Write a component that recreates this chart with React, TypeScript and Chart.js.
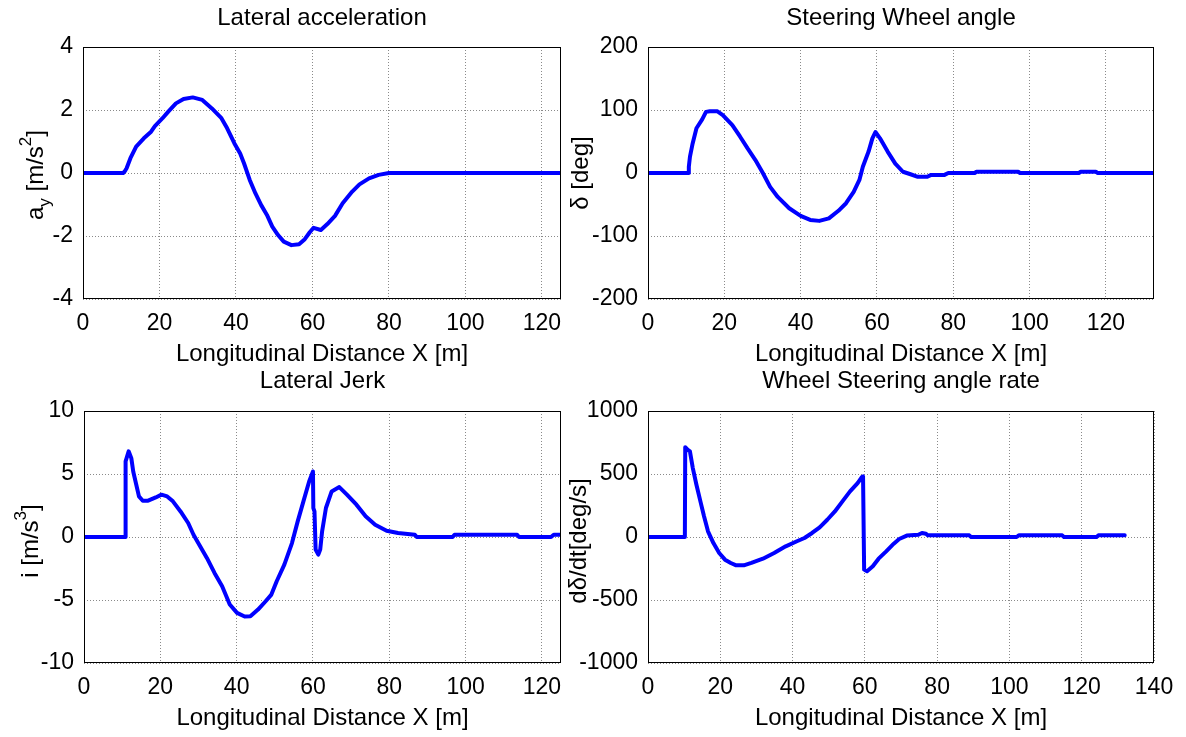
import React, { useEffect, useRef } from "react";
import { Chart, registerables } from "chart.js";

Chart.register(...registerables);

const FONT = "'Liberation Sans', Arial, Helvetica, sans-serif";

// ---------- Lateral acceleration ----------
const ayX = [0, 10.5, 10.9, 11.4, 12.4, 13.9, 15.9, 17.8, 18.8, 20.8, 22.3, 24.3, 26.3, 28.7, 31.2, 33.7, 36.2, 37.7, 39.6, 41.1, 42.1, 43.6, 45.1, 46.6, 48.1, 49.5, 51.0, 52.5, 54.5, 56.5, 58.0, 59.3, 60.3, 62.2, 63.9, 65.9, 67.9, 70.4, 72.3, 74.8, 77.3, 80, 125];
const ayY = [0, 0, 0.05, 0.15, 0.47, 0.84, 1.1, 1.31, 1.49, 1.74, 1.95, 2.21, 2.35, 2.4, 2.32, 2.05, 1.74, 1.42, 0.94, 0.62, 0.31, -0.22, -0.65, -1.02, -1.33, -1.7, -1.97, -2.18, -2.29, -2.26, -2.1, -1.88, -1.74, -1.81, -1.62, -1.36, -0.96, -0.59, -0.36, -0.17, -0.06, 0, 0];

// ---------- Steering wheel angle ----------
const swX = [0, 10.5, 10.7, 11.0, 11.7, 12.7, 14.2, 15.2, 16.2, 18.2, 19.6, 22.1, 24.1, 26.1, 28.1, 30.1, 32.0, 34.0, 37.0, 40.0, 42.5, 44.9, 47.4, 49.9, 51.9, 53.9, 55.4, 56.3, 57.8, 58.8, 59.6, 60.8, 62.8, 64.8, 66.8, 68.8, 70.7, 73.2, 74.2, 77.7, 78.7, 85.6, 86.1, 97.0, 97.5, 112.9, 113.4, 117.4, 117.8, 132.6];
const swY = [0, 0, 10, 26, 47, 71, 85, 97, 98, 98, 92, 76, 58, 39, 21, 0, -22, -38, -56, -68, -74.5, -76, -72, -60, -48, -30, -11, 10, 34, 55, 65, 55, 34, 15, 2, -2, -6, -6, -3, -3, 0, 0, 2, 2, 0, 0, 2, 2, 0, 0];

// ---------- Lateral jerk ----------
const jkX = [0, 10.8, 10.9, 11.7, 12.4, 12.9, 13.7, 14.4, 15.4, 16.8, 18.8, 20.3, 21.8, 23.3, 25.3, 27.3, 28.7, 30.2, 32.2, 34.2, 36.2, 38.2, 40.1, 42.1, 43.6, 45.6, 47.6, 49.1, 50.5, 52.5, 54.5, 56.0, 57.5, 59.0, 59.5, 60.0, 60.1, 60.4, 60.7, 61.4, 61.9, 62.4, 63.4, 64.9, 66.9, 68.9, 71.4, 73.8, 76.3, 79.3, 82.3, 86.7, 87.2, 96.6, 97.1, 113.5, 114.0, 122.4, 123.1, 125];
const jkY = [0, 0, 6.0, 6.8, 6.26, 5.2, 4.15, 3.22, 2.88, 2.88, 3.14, 3.36, 3.22, 2.83, 2.03, 1.11, 0.18, -0.61, -1.66, -2.85, -3.91, -5.36, -6.02, -6.31, -6.29, -5.76, -5.1, -4.57, -3.51, -2.19, -0.48, 1.24, 2.83, 4.41, 4.81, 5.2, 2.3, 2.03, -1.0, -1.4, -1.0, 0.45, 2.3, 3.62, 3.96, 3.36, 2.56, 1.64, 0.98, 0.5, 0.32, 0.18, 0, 0, 0.18, 0.18, 0, 0, 0.18, 0.18];

// ---------- Wheel steering angle rate ----------
const rtX = [0, 10.2, 10.3, 11.0, 11.6, 12.4, 13.4, 14.5, 15.5, 16.6, 18.1, 19.7, 21.3, 22.9, 24.4, 26.5, 28.6, 31.8, 34.9, 38.1, 41.2, 43.3, 45.4, 47.5, 49.6, 51.7, 53.8, 55.9, 58.0, 59.2, 59.5, 59.8, 60.6, 62.2, 63.8, 65.9, 68.0, 69.5, 71.6, 74.8, 75.8, 76.9, 77.4, 88.9, 89.4, 102.0, 102.6, 114.6, 115.1, 124.1, 124.6, 131.9];
const rtY = [0, 0, 713, 692, 679, 547, 415, 283, 164, 45, -48, -127, -180, -206, -225, -225, -206, -172, -127, -74, -34, -8, 32, 77, 137, 203, 283, 362, 428, 476, 481, -259, -272, -232, -172, -114, -53, -16, 11, 18, 32, 26, 13, 13, 0, 0, 13, 13, 0, 0, 13, 13];

// ---------- axis ranges / tick steps ----------
const xMaxs = [125, 132.6, 125, 140];
const yRanges = [[-4, 4, 2], [-200, 200, 100], [-10, 10, 5], [-1000, 1000, 500]];
const titles = ["Lateral acceleration", "Steering Wheel angle", "Lateral Jerk", "Wheel Steering angle rate"];
const xTitle = "Longitudinal Distance X [m]";

type Seg = { t: string; sub?: boolean; sup?: boolean };
const yTitles: Seg[][] = [
  [{ t: "a" }, { t: "y", sub: true }, { t: " [m/s" }, { t: "2", sup: true }, { t: "]" }],
  [{ t: "δ [deg]" }],
  [{ t: "i [m/s" }, { t: "3", sup: true }, { t: "]" }],
  [{ t: "dδ/dt[deg/s]" }],
];

const richYTitle = {
  id: "richYTitle",
  afterDraw(chart: any, _a: any, opts: any) {
    if (!opts || !opts.segments) return;
    const { ctx, chartArea } = chart;
    const size = opts.size || 24;
    const small = Math.round(size * 0.72);
    ctx.save();
    ctx.translate(chartArea.left - opts.offset, (chartArea.top + chartArea.bottom) / 2 + (opts.shift || 0));
    ctx.rotate(-Math.PI / 2);
    ctx.fillStyle = "#000";
    ctx.textBaseline = "alphabetic";
    ctx.textAlign = "left";
    const segs: Seg[] = opts.segments;
    let total = 0;
    const widths = segs.map((s) => {
      ctx.font = `${s.sub || s.sup ? small : size}px ${FONT}`;
      const w = ctx.measureText(s.t).width;
      total += w;
      return w;
    });
    let x = -total / 2;
    segs.forEach((s, i) => {
      ctx.font = `${s.sub || s.sup ? small : size}px ${FONT}`;
      const dy = s.sub ? size * 0.28 : s.sup ? -size * 0.5 : 0;
      ctx.fillText(s.t, x, dy);
      x += widths[i];
    });
    ctx.restore();
  },
};

const boxPlugin = {
  id: "axesBox",
  afterDraw(chart: any) {
    const { ctx, chartArea: a } = chart;
    ctx.save();
    ctx.strokeStyle = "#000";
    ctx.lineWidth = 1;
    ctx.setLineDash([]);
    ctx.strokeRect(Math.round(a.left) + 0.5, Math.round(a.top) + 0.5, Math.round(a.right - a.left) - 1, Math.round(a.bottom - a.top) - 1);
    ctx.restore();
  },
};

type PanelDef = {
  idx: number;
  xs: number[];
  ys: number[];
  left: number;
  top: number;
  width: number;
  height: number;
  clip?: number;
  areaLeft: number;
  padRight: number;
  titlePadTop: number;
  titlePadBottom: number;
  yOffset: number;
  yShift: number;
};

function makeConfig(p: PanelDef): any {
  const [ymin, ymax, ystep] = yRanges[p.idx];
  const pts = p.xs.map((x, i) => ({ x, y: p.ys[i] }));
  const gridOpts = { color: "#8a8a8a", lineWidth: 1, drawTicks: false };
  const tickFont = { family: FONT, size: 23 };
  return {
    type: "line",
    data: {
      datasets: [
        {
          data: pts,
          borderColor: "#0000ff",
          borderWidth: 4,
          pointRadius: 0,
          tension: 0,
          fill: false,
          borderJoinStyle: "round",
          borderCapStyle: "round",
        },
      ],
    },
    options: {
      animation: false,
      responsive: false,
      events: [],
      layout: { padding: { left: 0, right: p.padRight, top: 0, bottom: 0 } },
      plugins: {
        legend: { display: false },
        tooltip: { enabled: false },
        title: {
          display: true,
          text: titles[p.idx],
          color: "#000",
          fullSize: false,
          font: { family: FONT, size: 24, weight: "normal" },
          padding: { top: p.titlePadTop, bottom: p.titlePadBottom },
        },
        richYTitle: { segments: yTitles[p.idx], offset: p.yOffset, size: 24, shift: p.yShift },
      },
      scales: {
        x: {
          type: "linear",
          min: 0,
          max: xMaxs[p.idx],
          ticks: {
            stepSize: 20,
            includeBounds: false,
            padding: 11,
            color: "#000",
            font: tickFont,
            maxRotation: 0,
            autoSkip: false,
            callback: (v: number) => String(v),
          },
          grid: gridOpts,
          border: { display: false, dash: [1, 2] },
          title: {
            display: true,
            text: xTitle,
            color: "#000",
            font: { family: FONT, size: 24 },
            padding: { top: 0, bottom: 0 },
          },
          afterFit(s: any) {
            s.height = 70;
          },
        },
        y: {
          type: "linear",
          min: ymin,
          max: ymax,
          ticks: {
            stepSize: ystep,
            padding: 10,
            color: "#000",
            font: tickFont,
            autoSkip: false,
            callback: (v: number) => String(v),
          },
          grid: gridOpts,
          border: { display: false, dash: [1, 2] },
          afterFit(s: any) {
            s.width = p.areaLeft;
          },
        },
      },
    },
    plugins: [richYTitle, boxPlugin],
  };
}

function Panel({ def }: { def: PanelDef }) {
  const ref = useRef<HTMLCanvasElement>(null);
  useEffect(() => {
    const chart = new Chart(ref.current as HTMLCanvasElement, makeConfig(def));
    return () => chart.destroy();
  }, []);
  return (
    <div
      style={{
        position: "absolute",
        left: def.left,
        top: def.top,
        width: def.clip ?? def.width,
        height: def.height,
        overflow: "hidden",
      }}
    >
      <canvas ref={ref} width={def.width} height={def.height} style={{ display: "block", width: def.width, height: def.height }} />
    </div>
  );
}

const panels: PanelDef[] = [
  { idx: 0, xs: ayX, ys: ayY, left: 0, top: 0, width: 593, height: 369, clip: 561, areaLeft: 83, padRight: 32, titlePadTop: 4.3, titlePadBottom: 13.9, yOffset: 40, yShift: 2 },
  { idx: 1, xs: swX, ys: swY, left: 561, top: 0, width: 625, height: 369, areaLeft: 87, padRight: 32, titlePadTop: 4.3, titlePadBottom: 13.9, yOffset: 60, yShift: 0 },
  { idx: 2, xs: jkX, ys: jkY, left: 0, top: 360, width: 593, height: 373, clip: 561, areaLeft: 84, padRight: 32, titlePadTop: 6.9, titlePadBottom: 15.3, yOffset: 46, yShift: 4 },
  { idx: 3, xs: rtX, ys: rtY, left: 561, top: 360, width: 625, height: 373, areaLeft: 87, padRight: 32, titlePadTop: 6.9, titlePadBottom: 15.3, yOffset: 62, yShift: 4 },
];

export default function App() {
  return (
    <div style={{ position: "fixed", left: 0, top: 0, width: 1186, height: 737, background: "#fff" }}>
      {panels.map((p) => (
        <Panel key={p.idx} def={p} />
      ))}
    </div>
  );
}
